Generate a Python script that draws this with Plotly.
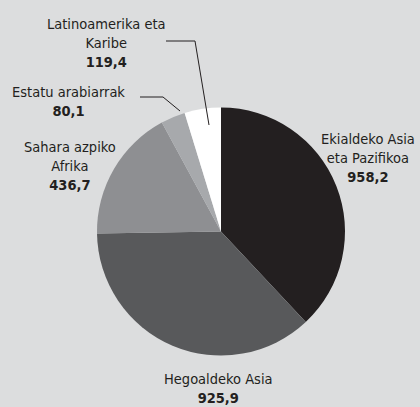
import plotly.graph_objects as go

regions = ["Ekialdeko Asia eta Pazifikoa", "Hegoaldeko Asia", "Sahara azpiko Afrika",
           "Estatu arabiarrak", "Latinoamerika eta Karibe"]
values = [958.2, 925.9, 436.7, 80.1, 119.4]
value_labels = ["958,2", "925,9", "436,7", "80,1", "119,4"]
label_lines = [["Ekialdeko Asia", "eta Pazifikoa"], ["Hegoaldeko Asia"], ["Sahara azpiko", "Afrika"],
               ["Estatu arabiarrak"], ["Latinoamerika eta", "Karibe"]]
colors = ["#231f20", "#58595b", "#8e8f92", "#a7a9ac", "#ffffff"]

W, H = 420, 407
BG = "#dcddde"
FONT = "DejaVu Sans Condensed, Liberation Sans Narrow, sans-serif"

cx, cy, r = 221, 231.5, 124

fig = go.Figure(go.Pie(
    labels=regions, values=values, sort=False, direction="clockwise", rotation=0,
    marker=dict(colors=colors, line=dict(width=0)),
    textinfo="none", hoverinfo="label+value", showlegend=False,
    domain=dict(x=[(cx - r) / W, (cx + r) / W], y=[1 - (cy + r) / H, 1 - (cy - r) / H]),
))

# label anchor positions (pixels): center x, top y
label_pos = [(368, 129), (218, 369), (70, 137), (68, 82), (106, 14)]
anns = []
for lines, val, (x, y) in zip(label_lines, value_labels, label_pos):
    text = "<br>".join(lines) + "<br><b>" + val + "</b>"
    anns.append(dict(x=x / W, y=1 - y / H, xref="paper", yref="paper", text=text,
                     showarrow=False, xanchor="center", yanchor="top", align="center",
                     font=dict(family=FONT, size=14.5, color="#231f20")))

def seg(x0, y0, x1, y1):
    return dict(type="line", xref="paper", yref="paper", x0=x0 / W, y0=1 - y0 / H,
                x1=x1 / W, y1=1 - y1 / H, line=dict(color="#231f20", width=1))

shapes = [
    seg(166, 41, 195, 41), seg(195, 41, 209, 125),
    seg(140, 97, 163, 97), seg(163, 97, 180, 111),
]

fig.update_layout(width=W, height=H, margin=dict(l=0, r=0, t=0, b=0),
                  paper_bgcolor=BG, plot_bgcolor=BG, annotations=anns, shapes=shapes)
fig.write_html("out.html", config={"displayModeBar": False},
               post_script="document.body.style.margin='0';document.body.style.padding='0';"
                           "document.body.style.overflow='hidden';")
